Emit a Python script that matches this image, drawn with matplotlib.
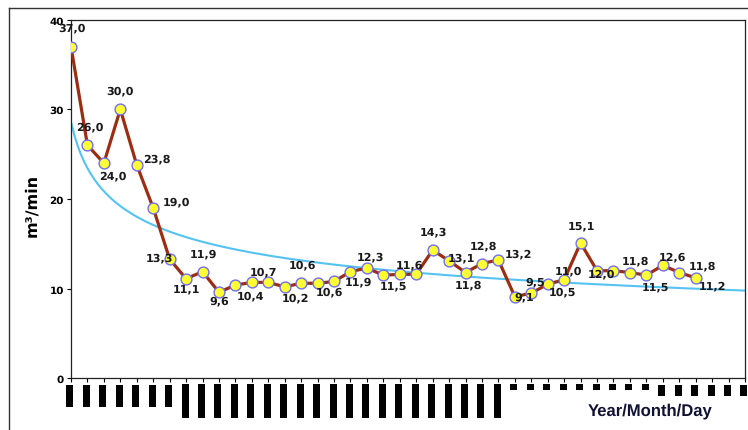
import numpy as np
import matplotlib
matplotlib.use("Agg")
import matplotlib.pyplot as plt
from matplotlib.lines import Line2D

plt.rcParams["text.hinting"] = "none"

# flow readings per sampling day (m3/min)
flow = [37.0, 26.0, 24.0, 30.0, 23.8, 19.0, 13.3, 11.1, 11.9, 9.6,
        10.4, 10.7, 10.7, 10.2, 10.6, 10.6, 10.8, 11.9, 12.3, 11.5,
        11.6, 11.6, 14.3, 13.1, 11.8, 12.8, 13.2, 9.1, 9.5, 10.5,
        11.0, 15.1, 12.0, 12.0, 11.8, 11.5, 12.6, 11.8, 11.2]

# date labels along the axis (printed as solid blocks), one per category
n_cat = 42
label_len = [4] * 7 + [6] * 20 + [1] * 9 + [2] * 6
date_labels = ["\u2588" * k for k in label_len]

# which points carry a value label and where it sits (offset in pixels)
label_offsets = {
    0: (1, 19), 1: (2, 19), 2: (9, -12), 3: (0, 19), 4: (20, 7),
    5: (23, 7), 6: (-10, 2), 7: (0, -10), 8: (1, 18), 9: (0, -8),
    10: (15, -10), 11: (12, 11), 13: (11, -11), 14: (1, 19), 15: (12, -8),
    17: (8, -10), 18: (4, 12), 19: (10, -10), 20: (10, 10), 22: (1, 19),
    23: (12, 3), 24: (3, -12), 25: (1, 18), 26: (20, 7), 27: (9, 0),
    28: (4, 12), 29: (15, -7), 30: (4, 9), 31: (1, 18), 32: (4, -3),
    34: (6, 12), 35: (9, -11), 36: (10, 9), 37: (23, 7), 38: (17, -8),
}

x = np.arange(len(flow))

# power trendline fitted on the readings, extended to the last category
coef = np.polyfit(np.log(x + 1), np.log(flow), 1)
x_tr = np.linspace(0, n_cat - 1, 200)
trend = np.exp(coef[1]) * (x_tr + 1) ** coef[0]

fig = plt.figure(figsize=(7.48, 4.31), dpi=100)
fig.patch.set_facecolor("white")

# outer chart border (left and top edges fall inside the image)
bx, by = 9 / 748, 1 - 9 / 431
fig.add_artist(Line2D([bx, bx], [0, by], transform=fig.transFigure,
                      color="#333333", linewidth=1.0))
fig.add_artist(Line2D([bx, 1], [by, by], transform=fig.transFigure,
                      color="#333333", linewidth=1.0))

ax = fig.add_axes([71 / 748, 1 - 379.3 / 431, 674 / 748, 358.6 / 431])

ax.plot(x_tr, trend, color="#55C3F2", linewidth=1.5, zorder=2)
ax.plot(x, flow, color="#9B2D12", linewidth=2.3, zorder=3,
        marker="o", markersize=7.8, markerfacecolor="#FFFF33",
        markeredgecolor="#6F6FF0", markeredgewidth=1.0)

for i, (dx, dy) in label_offsets.items():
    ax.annotate(f"{flow[i]:.1f}".replace(".", ","), (x[i], flow[i]),
                xytext=(dx, dy), textcoords="offset pixels",
                ha="center", va="center", fontsize=8, fontweight="bold",
                color="#1a1a1a", zorder=5, annotation_clip=False)

ax.set_xlim(0, n_cat - 1)
ax.set_ylim(0, 40)
ax.set_yticks([0, 10, 20, 30, 40])
ax.set_xticks(np.arange(n_cat))
ax.set_xticklabels(date_labels, rotation=90, va="top", ha="center",
                   fontsize=5.25, color="black")
for lbl in ax.get_xticklabels():
    lbl.set_antialiased(False)

for lbl in ax.get_yticklabels():
    lbl.set_fontweight("bold")
    lbl.set_fontsize(7.5)

ax.tick_params(axis="x", direction="out", length=3, width=0.8, pad=0.3)
ax.tick_params(axis="y", direction="out", length=3, width=0.8, pad=2)

for s in ax.spines.values():
    s.set_color("#222222")
    s.set_linewidth(0.9)

ax.set_ylabel("m\u00b3/min", fontsize=11.5, fontweight="bold")
ax.yaxis.set_label_coords(-0.047, 0.486)

fig.text(650 / 748, 1 - 411 / 431, "Year/Month/Day", ha="center",
         va="center", fontsize=12, fontweight="bold",
         family="Liberation Sans", color="#111133")

fig.savefig("out.png", dpi=100)
